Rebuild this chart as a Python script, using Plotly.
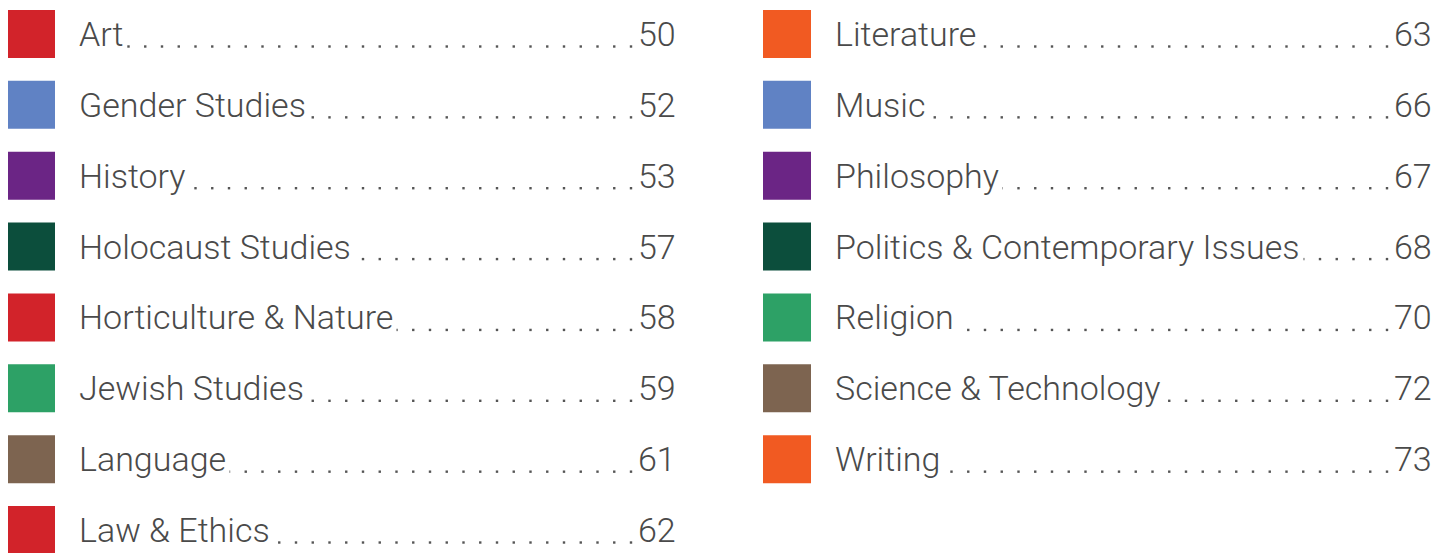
import plotly.graph_objects as go

# ---- data ----
categories = ["Art", "Gender Studies", "History", "Holocaust Studies",
              "Horticulture & Nature", "Jewish Studies", "Language", "Law & Ethics",
              "Literature", "Music", "Philosophy", "Politics & Contemporary Issues",
              "Religion", "Science & Technology", "Writing"]
pages = [50, 52, 53, 57, 58, 59, 61, 62, 63, 66, 67, 68, 70, 72, 73]
colors = ["#D2232A", "#6082C4", "#6B2585", "#0C4E3C",
          "#D2232A", "#2DA166", "#7D6450", "#D2232A",
          "#F15A22", "#6082C4", "#6B2585", "#0C4E3C",
          "#2DA166", "#7D6450", "#F15A22"]
rows_per_col = 8

# ---- layout constants ----
W, H = 1452, 553
PAGE_OFF = 8          # browser body margin
row0, row_gap = 34.0, 70.86
col_off = 756
sq_x = 31
text_x = 78
num_right = 677
last_dot = 631
dot_gap = 16.75
FONT = "Roboto"
TXT = "#4a4a4a"

fig = go.Figure()

sx, sy = [], []
for i, c in enumerate(categories):
    col, r = divmod(i, rows_per_col)
    sx.append(sq_x + col * col_off)
    sy.append(row0 + r * row_gap)

fig.add_trace(go.Scatter(x=sx, y=sy, mode="markers",
                         marker=dict(symbol="square", size=48, color=colors, line=dict(width=0)),
                         hoverinfo="skip", showlegend=False))

# leader dots
dx, dy = [], []
for i, c in enumerate(categories):
    col, r = divmod(i, rows_per_col)
    yc = row0 + r * row_gap + 12.5
    k = 0
    while True:
        x = last_dot - k * dot_gap
        if x < text_x + 10:
            break
        dx.append(x + col * col_off)
        dy.append(yc)
        k += 1
fig.add_trace(go.Scatter(x=dx, y=dy, mode="markers",
                         marker=dict(symbol="square", size=2.4, color="#555555", line=dict(width=0)),
                         hoverinfo="skip", showlegend=False))

ann = []
for i, (c, p) in enumerate(zip(categories, pages)):
    col, r = divmod(i, rows_per_col)
    yc = row0 + r * row_gap
    ann.append(dict(x=text_x + col * col_off - 3, y=yc, xref="x", yref="y",
                    text=c, showarrow=False, xanchor="left", yanchor="middle",
                    bgcolor="white", borderpad=3,
                    font=dict(family=FONT, size=34, color=TXT, weight=300)))
    ann.append(dict(x=num_right + col * col_off + 3, y=yc, xref="x", yref="y",
                    text=str(p), showarrow=False, xanchor="right", yanchor="middle",
                    bgcolor="white", borderpad=3,
                    font=dict(family=FONT, size=34, color=TXT, weight=300)))

fig.update_layout(
    width=W, height=H,
    margin=dict(l=0, r=0, t=0, b=0),
    paper_bgcolor="white", plot_bgcolor="white",
    xaxis=dict(range=[PAGE_OFF, W + PAGE_OFF], visible=False, fixedrange=True),
    yaxis=dict(range=[H + PAGE_OFF, PAGE_OFF], visible=False, fixedrange=True),
    annotations=ann,
)

fig.write_html("out.html")
